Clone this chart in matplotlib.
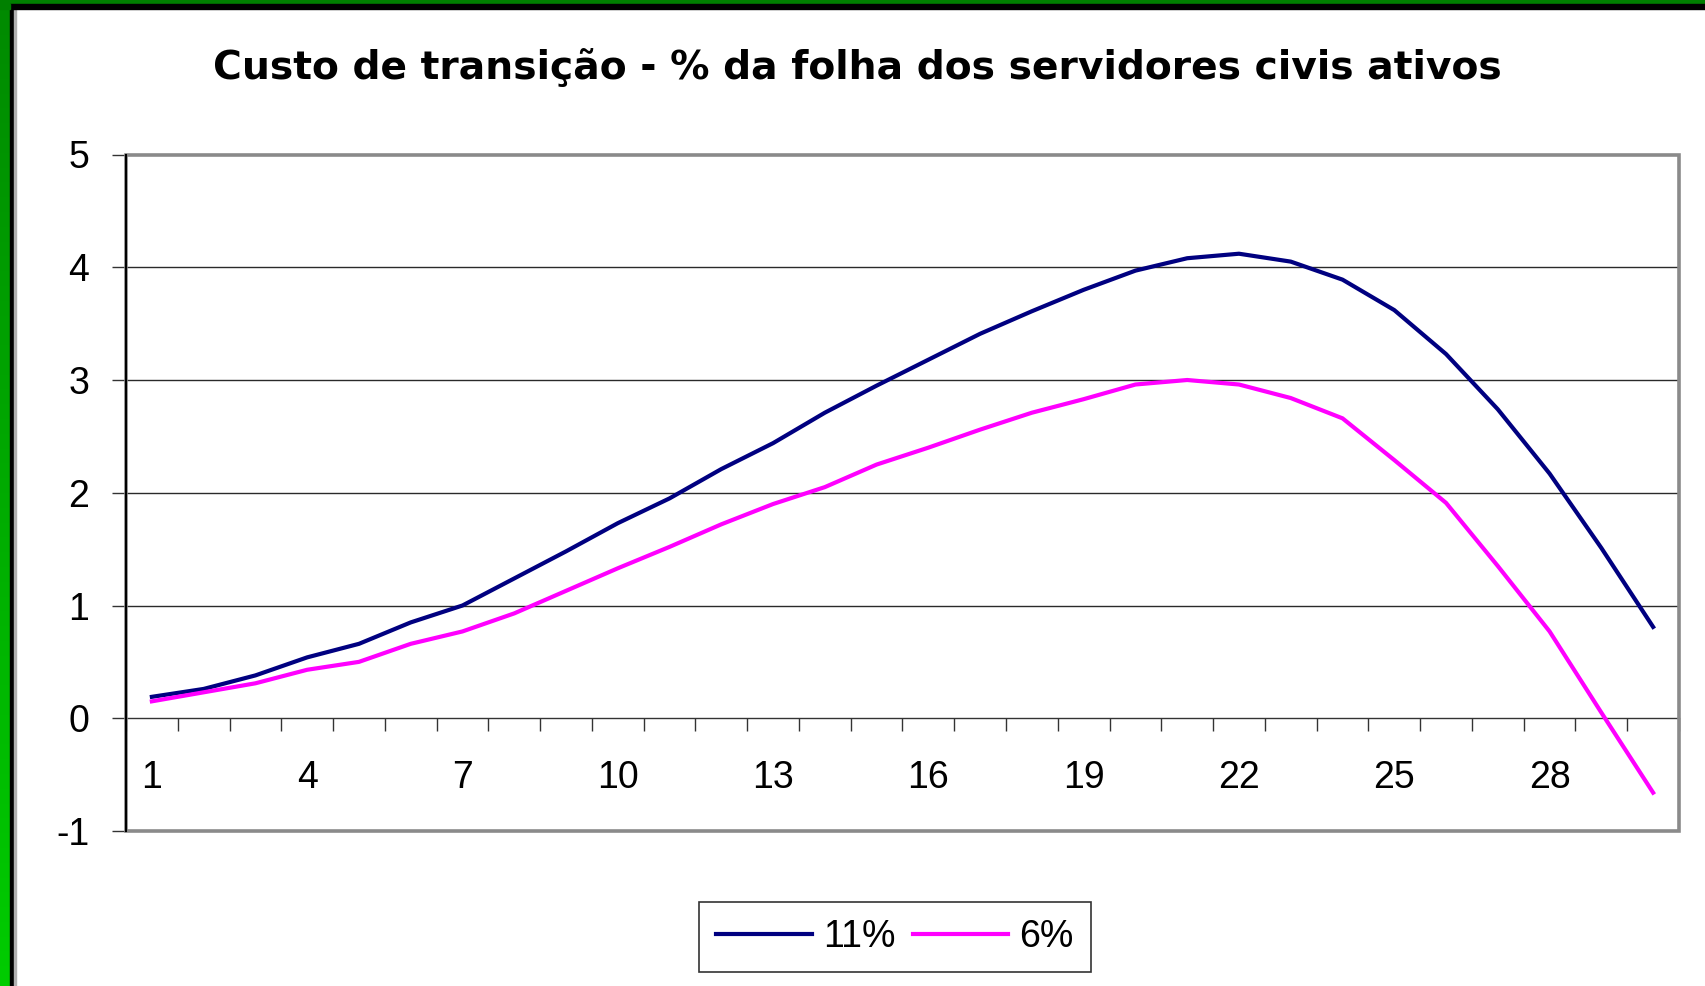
import numpy as np
import matplotlib
matplotlib.use("Agg")
import matplotlib.pyplot as plt
from matplotlib.patches import Rectangle

# values
years = list(range(1, 31))
custo_11 = [0.19, 0.26, 0.38, 0.54, 0.66, 0.85, 1.00, 1.24, 1.48, 1.73,
            1.95, 2.21, 2.44, 2.71, 2.95, 3.18, 3.41, 3.61, 3.80, 3.97,
            4.08, 4.12, 4.05, 3.89, 3.62, 3.23, 2.74, 2.17, 1.51, 0.81]
custo_6 = [0.15, 0.23, 0.31, 0.43, 0.50, 0.66, 0.77, 0.93, 1.13, 1.33,
           1.52, 1.72, 1.90, 2.05, 2.25, 2.40, 2.56, 2.71, 2.83, 2.96,
           3.00, 2.96, 2.84, 2.66, 2.29, 1.91, 1.35, 0.77, 0.05, -0.66]
x_labels = [1, 4, 7, 10, 13, 16, 19, 22, 25, 28]
y_ticks = [-1, 0, 1, 2, 3, 4, 5]
title = "Custo de transição - % da folha dos servidores civis ativos"

W, H = 1706, 986
plt.rcParams['font.family'] = ['Liberation Sans', 'DejaVu Sans']

fig = plt.figure(figsize=(W / 100, H / 100), dpi=100, facecolor='white')

# green frame on the left and top of the slide
grad = fig.add_axes([0, 0, 10 / W, 1])
grad.imshow(np.linspace(0, 1, 200).reshape(-1, 1), aspect='auto',
            cmap=matplotlib.colors.LinearSegmentedColormap.from_list('g', ['#008a00', '#00cc00']))
grad.set_axis_off()
fig.add_artist(Rectangle((10 / W, 0), 4 / W, 1, transform=fig.transFigure, color='black', zorder=5))
fig.add_artist(Rectangle((14 / W, 0), 1.5 / W, 1, transform=fig.transFigure, color='#b0b0b0', zorder=5))
fig.add_artist(Rectangle((0, 1 - 4 / H), 1, 4 / H, transform=fig.transFigure, color='#008000', zorder=6))
fig.add_artist(Rectangle((10 / W, 1 - 8.5 / H), 1, 4.5 / H, transform=fig.transFigure, color='black', zorder=6))
fig.add_artist(Rectangle((0, 1 - 8.5 / H), 10 / W, 4.5 / H, transform=fig.transFigure, color='#008000', zorder=6))

ax = fig.add_axes([126 / W, 1 - 831 / H, (1679 - 126) / W, (831 - 154.5) / H])
ax.set_xlim(0.5, 30.5)
ax.set_ylim(-1, 5)

for v in [1, 2, 3, 4]:
    ax.axhline(v, color='#2a2a2a', lw=1, zorder=1)

ax.plot(years, custo_11, color='#000080', lw=3, label='11%', zorder=3)
ax.plot(years, custo_6, color='#ff00ff', lw=3, label='6%', zorder=3)

# plot area border (gray, Excel style)
ax.add_patch(Rectangle((0, 0), 1, 1, transform=ax.transAxes, fill=False,
                       edgecolor='#8a8a8a', lw=2.6, zorder=4, clip_on=False))

for s in ['top', 'right']:
    ax.spines[s].set_visible(False)
ax.spines['left'].set_color('black')
ax.spines['left'].set_linewidth(1.5)
ax.spines['left'].set_zorder(5)
ax.spines['bottom'].set_position(('data', 0))
ax.spines['bottom'].set_color('#333333')
ax.spines['bottom'].set_linewidth(1)

ax.set_yticks(y_ticks)
ax.set_yticklabels([str(v) for v in y_ticks])
ax.tick_params(axis='y', direction='out', length=10, width=1, color='#333333',
               labelsize=27, pad=16.5)

ax.set_xticks(x_labels)
ax.set_xticklabels([str(v) for v in x_labels])
ax.set_xticks(np.arange(0.5, 31, 1), minor=True)
ax.tick_params(axis='x', which='major', length=0, labelsize=27, pad=30)
ax.tick_params(axis='x', which='minor', direction='out', length=9.5, width=1, color='#333333')

fig.text(857 / W, 1 - 79.3 / H, title, ha='center', va='baseline',
         fontsize=28.3, fontweight='bold', family=['DejaVu Sans'])

leg = fig.legend(loc='center', bbox_to_anchor=(895 / W, 1 - 937 / H), ncol=2,
                 fontsize=27, frameon=True, fancybox=False, handlelength=2.55,
                 handletextpad=0.3, columnspacing=0.45, borderpad=0.45)
leg.get_frame().set_edgecolor('black')
leg.get_frame().set_linewidth(1.2)

fig.savefig('out.png', dpi=100, facecolor='white')
